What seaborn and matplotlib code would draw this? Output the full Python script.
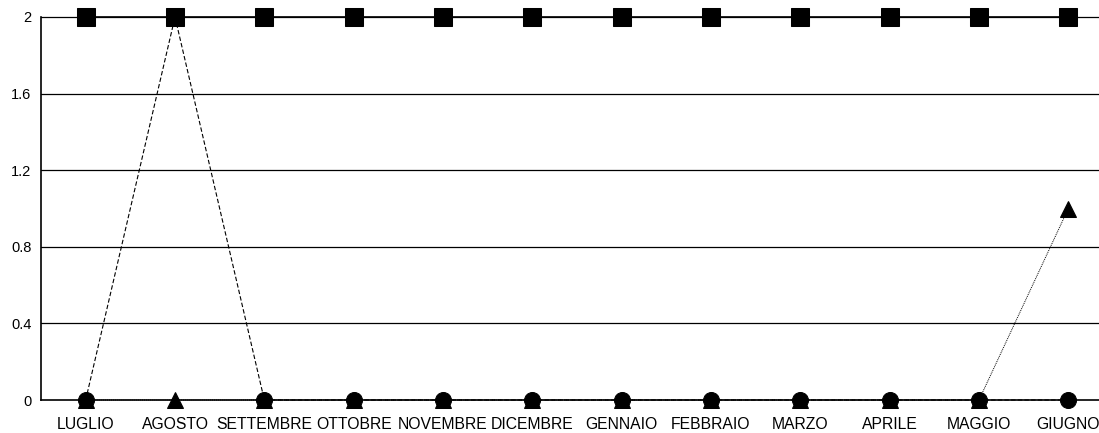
import numpy as np
import pandas as pd
import matplotlib
matplotlib.use('Agg')
import matplotlib.pyplot as plt
import seaborn as sns

months = ['LUGLIO', 'AGOSTO', 'SETTEMBRE', 'OTTOBRE', 'NOVEMBRE', 'DICEMBRE',
          'GENNAIO', 'FEBBRAIO', 'MARZO', 'APRILE', 'MAGGIO', 'GIUGNO']
squares = [2, 2, 2, 2, 2, 2, 2, 2, 2, 2, 2, 2]
circles = [0, 2, 0, 0, 0, 0, 0, 0, 0, 0, 0, 0]
triangles = [0, 0, 0, 0, 0, 0, 0, 0, 0, 0, 0, 1]
yticks = [0, 0.4, 0.8, 1.2, 1.6, 2]
ytick_labels = ['0', '0.4', '0.8', '1.2', '1.6', '2']

sns.set_style('white')
plt.rcParams['font.family'] = ['Liberation Sans', 'DejaVu Sans']

df = pd.DataFrame({'month': months, 'sq': squares, 'ci': circles, 'tr': triangles})
df['x'] = np.arange(len(months))

fig = plt.figure(figsize=(10.99, 4.33), dpi=100)
ax = fig.add_axes([41 / 1099, 33 / 433, 1072 / 1099, 383 / 433])

for y in yticks[1:]:
    ax.axhline(y, color='black', lw=0.9, zorder=0)

sns.lineplot(data=df, x='x', y='tr', ax=ax, color='black', lw=0.7,
             linestyle=(0, (1, 1)), marker='^', markersize=11,
             markeredgecolor='black', zorder=2)
sns.lineplot(data=df, x='x', y='ci', ax=ax, color='black', lw=0.8,
             linestyle=(0, (4, 2)), marker='o', markersize=11.5,
             markeredgecolor='black', zorder=3)
sns.lineplot(data=df, x='x', y='sq', ax=ax, color='black', lw=1.2,
             marker='s', markersize=12.5, markeredgecolor='black', zorder=4)

ax.set_xlim(-0.5, 11.5)
ax.set_ylim(0, 2)
ax.set_xticks(df['x'])
ax.set_xticklabels(months, fontsize=11.3, color='black')
ax.set_yticks(yticks)
ax.set_yticklabels(ytick_labels, fontsize=10.5, color='black')
ax.set_xlabel('')
ax.set_ylabel('')
ax.tick_params(axis='x', length=0, pad=12)
ax.tick_params(axis='y', length=0, pad=7)
for side in ['top', 'right']:
    ax.spines[side].set_visible(False)
for side in ['left', 'bottom']:
    ax.spines[side].set_color('black')
    ax.spines[side].set_linewidth(1.2)
for art in ax.get_children():
    if hasattr(art, 'set_clip_on'):
        art.set_clip_on(False)

fig.savefig('out.png', dpi=100)
